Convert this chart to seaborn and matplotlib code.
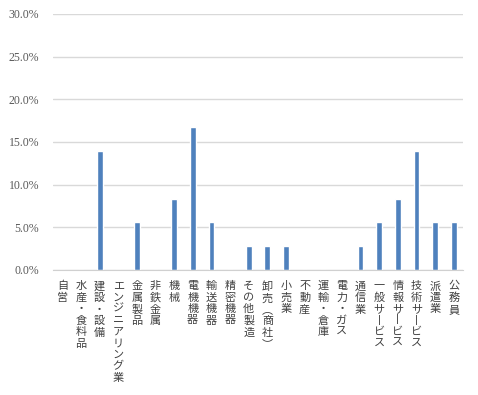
import matplotlib
matplotlib.use("Agg")
import matplotlib.pyplot as plt
import seaborn as sns
import pandas as pd
from matplotlib.ticker import PercentFormatter, MultipleLocator

# 業種別の割合 (%)
categories = ["自営", "水産・食料品", "建設・設備", "エンジニアリング業", "金属製品",
              "非鉄金属", "機械", "電機機器", "輸送機器", "精密機器", "その他製造",
              "卸売（商社）", "小売業", "不動産", "運輸・倉庫", "電力・ガス", "通信業",
              "一般サービス", "情報サービス", "技術サービス", "派遣業", "公務員"]
values = [0.0, 0.0, 13.9, 0.0, 5.6,
          0.0, 8.3, 16.7, 5.6, 0.0, 2.8,
          2.8, 2.8, 0.0, 0.0, 0.0, 2.8,
          5.6, 8.3, 13.9, 5.6, 5.6]

df = pd.DataFrame({"category": categories, "value": values})

sns.set_style("white")
plt.rcParams['font.family'] = ['Noto Sans CJK JP', 'DejaVu Sans']

fig = plt.figure(figsize=(4.78, 3.95), dpi=100)
ax = fig.add_axes([0.111, 0.3165, 0.8576, 0.6481])

sns.barplot(data=df, x="category", y="value", color="#4F81BD",
            saturation=1, width=0.31, ax=ax)

ax.set_ylim(0, 30)
ax.yaxis.set_major_locator(MultipleLocator(5))
ax.yaxis.set_major_formatter(PercentFormatter(decimals=1))
ax.grid(True, axis='y', color='#d9d9d9', linewidth=1)
ax.set_axisbelow(True)
for s in ['left', 'right', 'top']:
    ax.spines[s].set_visible(False)
ax.spines['bottom'].set_color('#d0d0d0')
ax.set_xlabel("")
ax.set_ylabel("")
ax.tick_params(axis='both', length=0)
ax.tick_params(axis='y', pad=10, labelcolor='#595959')
for t in ax.get_yticklabels():
    t.set_fontfamily('Liberation Serif')
    t.set_fontsize(8.5)

# 縦書きラベル
def tate(s):
    s = s.replace("ー", "丨").replace("（", "︵").replace("）", "︶")
    return "\n".join(s)

ax.set_xticks(range(len(categories)))
ax.set_xticklabels([tate(c) for c in categories], fontsize=8,
                   linespacing=1.18, va='top', color='#404040')
ax.tick_params(axis='x', pad=8)

fig.savefig("out.png", dpi=100)
